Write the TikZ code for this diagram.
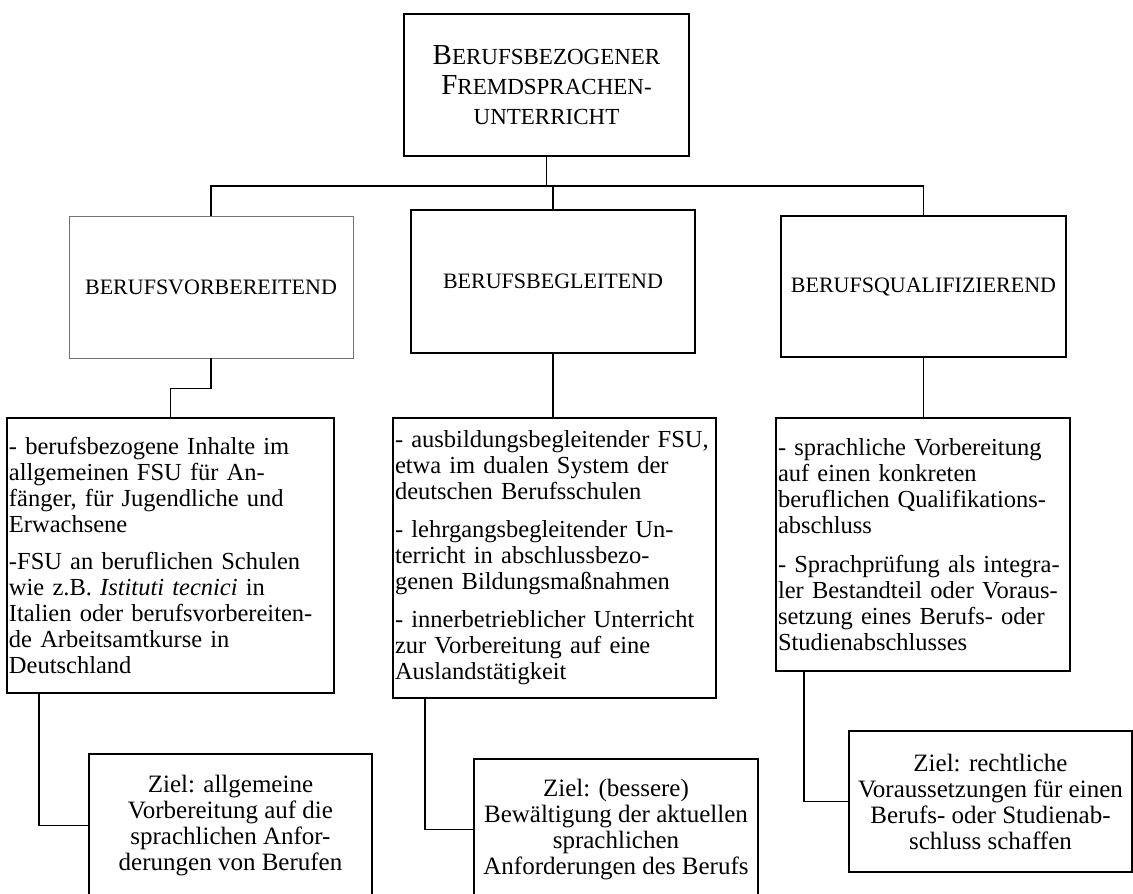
\documentclass[tikz,border=0pt]{standalone}
\usepackage{fontspec}
\setmainfont{Liberation Serif}
\usetikzlibrary{calc}
\newcommand\BigSC[1]{{\fontsize{29}{30}\selectfont #1}}
\newcommand\Ln[1]{\mbox{#1}}
\hfuzz=100pt
\begin{document}
\begin{tikzpicture}[x=1pt,y=-1pt,
  box/.style={draw, line width=2.8pt, rectangle, inner sep=0pt, font=\fontsize{22}{26}\selectfont},
  cbox/.style={box, align=left, inner xsep=2pt, inner ysep=0pt, font=\fontsize{24.5}{26}\selectfont},
  zbox/.style={box, align=center, font=\fontsize{25}{26}\selectfont},
  conn/.style={line width=1.8pt},
  ]
\useasboundingbox (0,0) rectangle (1133,894);
\clip (0,0) rectangle (1133,894);

% level 0
\node[box, align=center, minimum width=285pt, minimum height=142pt,
      font=\fontsize{23}{30}\selectfont] (top) at (546.5,85)
  {\BigSC{B}ERUFSBEZOGENER\\ \BigSC{F}REMDSPRACHEN-\\ UNTERRICHT};

% level 1
\node[box, draw=black!55, line width=0.8pt, minimum width=284pt, minimum height=142pt] (vor) at (211,287) {BERUFSVORBEREITEND};
\node[box, minimum width=284pt, minimum height=143pt] (beg) at (553,281.5) {BERUFSBEGLEITEND};
\node[box, minimum width=285pt, minimum height=141pt] (qual) at (923.5,286.5) {BERUFSQUALIFIZIEREND};

% level 2
\node[cbox, text width=323pt, minimum width=327pt, minimum height=275pt] (c1) at (170.5,555.5)
  {\Ln{- berufsbezogene Inhalte im}\\ \Ln{allgemeinen FSU für An-}\\ \Ln{fänger, für Jugendliche und}\\ \Ln{Erwachsene}\\[11pt]
   \Ln{-FSU an beruflichen Schulen}\\ \Ln{wie z.B. \textit{Istituti tecnici} in}\\ \Ln{Italien oder berufsvorbereiten-}\\ \Ln{de Arbeitsamtkurse in}\\ \Ln{Deutschland}};
\node[cbox, text width=319pt, minimum width=323pt, minimum height=280pt] (c2) at (554.5,558)
  {\Ln{- ausbildungsbegleitender FSU,}\\ \Ln{etwa im dualen System der}\\ \Ln{deutschen Berufsschulen}\\[12pt]
   \Ln{- lehrgangsbegleitender Un-}\\ \Ln{terricht in abschlussbezo-}\\ \Ln{genen Bildungsmaßnahmen}\\[12pt]
   \Ln{- innerbetrieblicher Unterricht}\\ \Ln{zur Vorbereitung auf eine}\\ \Ln{Auslandstätigkeit}};
\node[cbox, text width=290pt, minimum width=294pt, minimum height=253pt] (c3) at (923,544.5)
  {\Ln{- sprachliche Vorbereitung}\\ \Ln{auf einen konkreten}\\ \Ln{beruflichen Qualifikations-}\\ \Ln{abschluss}\\[13pt]
   \Ln{- Sprachprüfung als integra-}\\ \Ln{ler Bestandteil oder Voraus-}\\ \Ln{setzung eines Berufs- oder}\\ \Ln{Studienabschlusses}};

% level 3
\node[zbox, minimum width=283pt, minimum height=143pt] (z1) at (230.5,825.5)
  {Ziel: allgemeine\\ Vorbereitung auf die\\ sprachlichen Anfor-\\ derungen von Berufen};
\node[zbox, minimum width=284pt, minimum height=141pt] (z2) at (616,829.5)
  {Ziel: (bessere)\\ Bewältigung der aktuellen\\ sprachlichen\\ Anforderungen des Berufs};
\node[zbox, minimum width=283pt, minimum height=141pt] (z3) at (990.5,801.5)
  {Ziel: rechtliche\\ Voraussetzungen für einen\\ Berufs- oder Studienab-\\ schluss schaffen};

% connectors
\coordinate (bus) at (546,186);
\draw[conn] (top.south) -- (top.south |- bus);
\draw[conn] (vor.north) |- (bus) -| (qual.north);
\draw[conn] (beg.north) -- (beg.north |- bus);
\draw[conn] (vor.south) -- ++(0,30) -| (c1.north);
\draw[conn] (beg.south) -- (beg.south |- c2.north);
\draw[conn] (qual.south) -- (qual.south |- c3.north);
\draw[conn] ($(c1.south west)+(33,0)$) |- (z1.west);
\draw[conn] ($(c2.south west)+(33,0)$) |- (z2.west);
\draw[conn] ($(c3.south west)+(29,0)$) |- (z3.west);
\end{tikzpicture}
\end{document}
